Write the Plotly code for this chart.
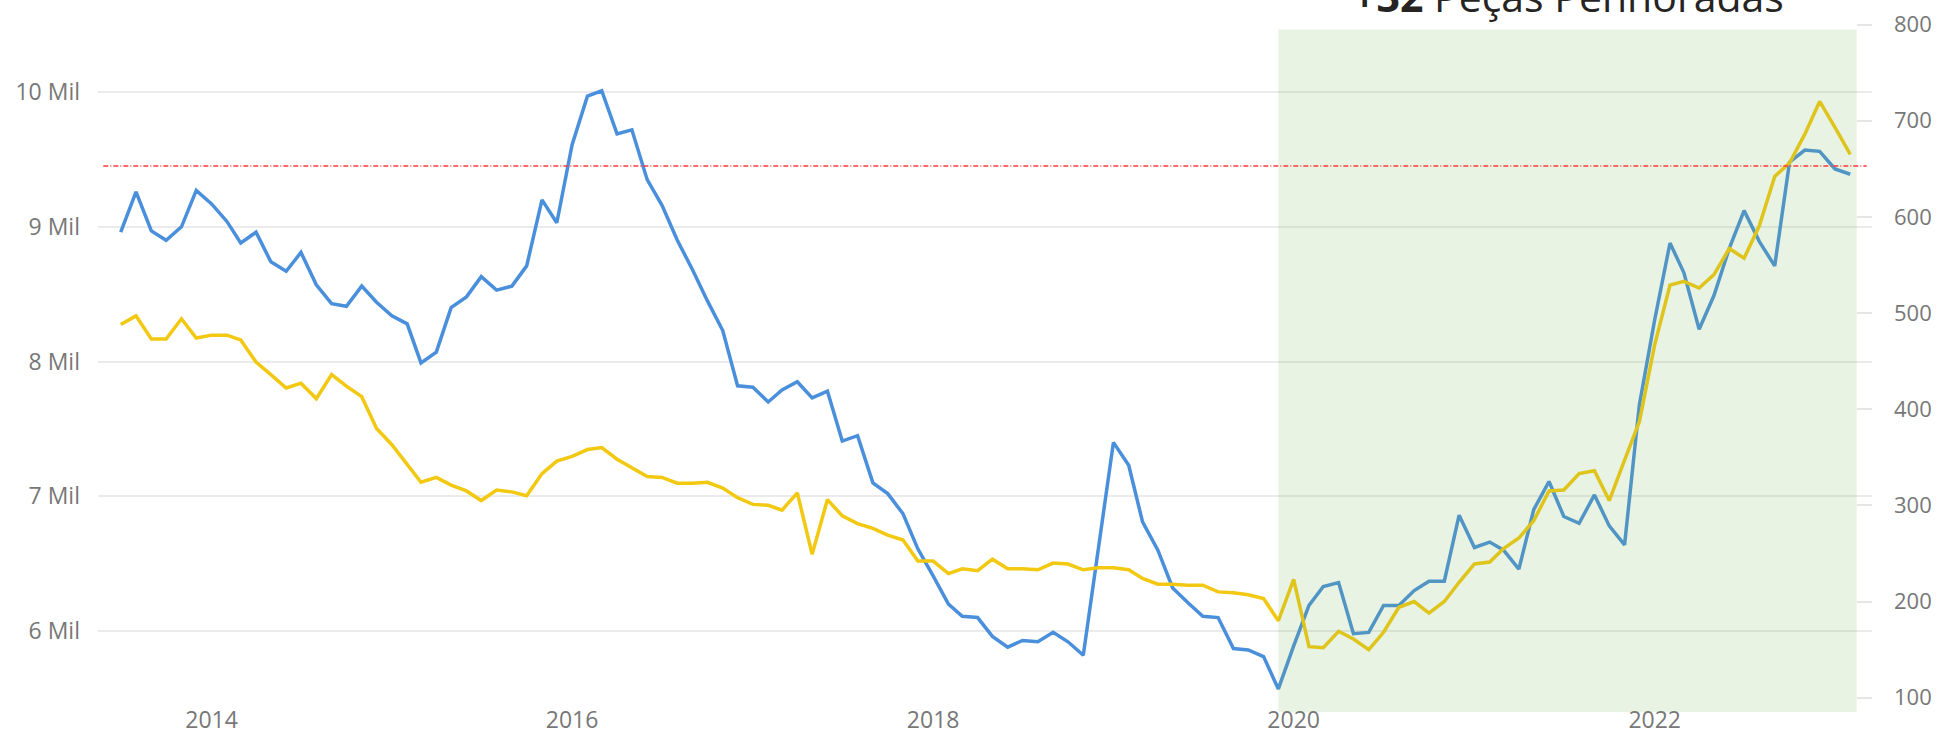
import pandas as pd
import plotly.graph_objects as go

# meses de jul/2013 a fev/2023
meses = pd.date_range("2013-07-01", periods=116, freq="MS")

# linha azul (eixo esquerdo, em unidades)
valor_penhorado = [
    8960, 9260, 8970, 8900, 9000, 9270, 9170, 9040, 8880, 8960, 8740, 8670,
    8810, 8570, 8430, 8410, 8560, 8440, 8340, 8280, 7990, 8070, 8400, 8480,
    8630, 8530, 8560, 8710, 9200, 9030, 9610, 9970, 10010, 9690, 9720, 9350,
    9160, 8900, 8680, 8450, 8230, 7820, 7810, 7700, 7790, 7850, 7730, 7780,
    7410, 7450, 7100, 7020, 6870, 6610, 6410, 6200, 6110, 6100, 5960, 5880,
    5930, 5920, 5990, 5920, 5820, 6610, 7400, 7230, 6810, 6600, 6320, 6210,
    6110, 6100, 5870, 5860, 5810, 5570, 5890, 6190, 6330, 6360, 5980, 5990,
    6190, 6190, 6300, 6370, 6370, 6860, 6620, 6660, 6600, 6460, 6900, 7110,
    6850, 6800, 7010, 6780, 6640, 7680, 8310, 8880, 8660, 8240, 8490, 8840,
    9120, 8890, 8710, 9480, 9570, 9560, 9430, 9390,
]

# linha amarela (eixo direito)
pecas_penhoradas = [
    488, 497, 473, 473, 494, 474, 477, 477, 472, 449, 436, 422,
    427, 411, 436, 424, 413, 380, 363, 343, 324, 329, 321, 315,
    305, 316, 314, 310, 333, 346, 351, 358, 360, 348, 339, 330,
    329, 323, 323, 324, 318, 308, 301, 300, 295, 313, 249, 306,
    289, 281, 276, 269, 264, 242, 242, 229, 234, 232, 244, 234,
    234, 233, 240, 239, 233, 235, 235, 233, 224, 218, 218, 217,
    217, 210, 209, 207, 203, 180, 223, 153, 152, 169, 161, 150,
    168, 194, 200, 188, 200, 220, 239, 241, 255, 266, 284, 315,
    316, 333, 336, 305, 347, 387, 467, 529, 533, 526, 540, 567,
    557, 591, 642, 656, 686, 720, 693, 665,
]

limite = 9452
periodo_destaque = ["2019-12-01", "2023-02-14"]

ticks_esq = [6000, 7000, 8000, 9000, 10000]
ticks_esq_txt = ["6 Mil", "7 Mil", "8 Mil", "9 Mil", "10 Mil"]
ticks_dir = [100, 200, 300, 400, 500, 600, 700, 800]
anos = ["2014-01-01", "2016-01-01", "2018-01-01", "2020-01-01", "2022-01-01"]
anos_txt = ["2014", "2016", "2018", "2020", "2022"]

titulo = "<b>+32</b> Peças Penhoradas"

FONTE = "Segoe UI, Open Sans, sans-serif"
CINZA = "#777777"

fig = go.Figure()
fig.add_trace(go.Scatter(x=meses, y=valor_penhorado, mode="lines",
                         line={"color": "#4A8FDB", "width": 3.5},
                         name="Valor", yaxis="y"))
fig.add_trace(go.Scatter(x=meses, y=pecas_penhoradas, mode="lines",
                         line={"color": "#F2C811", "width": 3.5},
                         name="Peças", yaxis="y2"))

# faixa verde do periodo em destaque
fig.add_shape(type="rect", xref="x", yref="y2",
              x0=periodo_destaque[0], x1=periodo_destaque[1],
              y0=85.1, y1=794.8,
              fillcolor="rgba(120,180,80,0.16)", line={"width": 0},
              layer="above")
# linha de referencia
fig.add_shape(type="line", xref="paper", yref="y",
              x0=0.003, x1=0.997, y0=limite, y1=limite,
              line={"color": "#FF3B3B", "width": 1.5,
                    "dash": "5px,2px,1px,2px"},
              layer="above")

fig.add_annotation(text=titulo, xref="paper", yref="paper",
                   x=0.7065, y=0.9913, xanchor="left", yanchor="bottom",
                   showarrow=False,
                   font={"family": FONTE, "size": 41, "color": "#252423"})

fig.update_layout(
    width=1937, height=734,
    margin={"l": 98, "r": 65, "t": 20, "b": 22},
    paper_bgcolor="white", plot_bgcolor="white",
    showlegend=False,
    font={"family": FONTE, "size": 23, "color": CINZA},
    xaxis={"range": ["2013-05-16", "2023-03-17"],
           "tickvals": anos, "ticktext": anos_txt,
           "showgrid": False, "zeroline": False, "showline": False,
           "ticks": "", "ticklabelstandoff": -8, "automargin": False},
    yaxis={"range": [5399, 10535],
           "tickvals": ticks_esq, "ticktext": ticks_esq_txt,
           "showgrid": True, "gridcolor": "#EBEBEB", "gridwidth": 2,
           "zeroline": False, "showline": False, "ticks": "",
           "ticklabelstandoff": 17, "automargin": False},
    yaxis2={"range": [85.1, 804.7], "overlaying": "y", "side": "right",
            "tickvals": ticks_dir, "showgrid": False, "zeroline": False,
            "showline": False, "ticks": "inside", "ticklen": 15,
            "tickcolor": "#E6E6E6", "tickwidth": 2,
            "tickfont": {"size": 22},
            "ticklabelstandoff": 21, "automargin": False},
)

# sem a margem padrao do <body>, para a figura ocupar a janela toda
fig.write_html("out.html", config={"displayModeBar": False},
               post_script="document.body.style.margin='0';")
